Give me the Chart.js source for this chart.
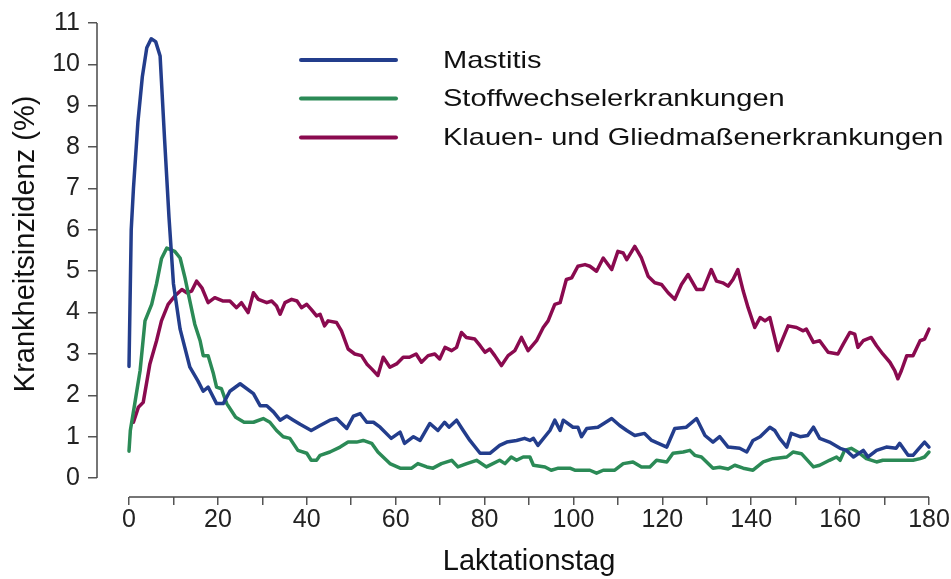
<!DOCTYPE html>
<html>
<head>
<meta charset="utf-8">
<script src="https://cdn.jsdelivr.net/npm/chart.js@4/dist/chart.umd.min.js"></script>
<style>
  html, body { margin: 0; padding: 0; background: #fff; }
  #wrap { width: 951px; height: 579px; position: relative; }
</style>
</head>
<body>
<div id="wrap"><canvas id="lineChart"></canvas></div>
<script>
const seriesNames = ['Mastitis', 'Stoffwechselerkrankungen', 'Klauen- und Gliedmaßenerkrankungen'];
const seriesColors = ['#233d8c', '#2b8a56', '#8a0a4f'];

const mastitisDays = [0, 0.5, 1, 2, 3, 4, 5, 6, 7, 8, 9, 10, 11.5, 13.7, 15.5, 16.7, 17.8,
    19.7, 21.2, 22.7, 25, 28, 29.5, 31, 32.5, 34, 35.5, 37, 38.5, 41, 43, 45.2, 46.7, 49,
    50.5, 52, 53.5, 55, 56.5, 59, 61, 62, 64, 65.5, 67.7, 69.5, 71, 72, 73.7, 75.2, 76.7,
    79, 81.2, 83.4, 85, 87.2, 89, 90.2, 91, 92, 94.7, 95.8, 97, 97.7, 99.9, 101, 101.8, 103,
    105.5, 108.6, 110.4, 112, 113.8, 116, 117.6, 121, 122.8, 125.4, 127.7, 129.6, 131.4,
    132.9, 134.8, 137.4, 139, 140.4, 142, 144.2, 145.3, 146.4, 148, 149, 151, 152.7, 154,
    155.4, 157.6, 160, 161.4, 163, 165.2, 166.3, 168.2, 170.4, 172.6, 173.4, 175.3, 176.4,
    178, 179, 180];
const mastitisValues = [2.7, 6.0, 7.0, 8.6, 9.7, 10.4, 10.62, 10.55, 10.2, 8.2, 6.3, 4.7, 3.6, 2.68, 2.35, 2.1, 2.2,
    1.8, 1.8, 2.1, 2.28, 2.04, 1.75, 1.75, 1.6, 1.4, 1.5, 1.4, 1.3, 1.15, 1.27, 1.4, 1.44, 1.2,
    1.5, 1.56, 1.35, 1.35, 1.23, 0.96, 1.11, 0.84, 1.0, 0.91, 1.32, 1.15, 1.35, 1.23, 1.4, 1.15, 0.91,
    0.6, 0.6, 0.79, 0.87, 0.91, 0.96, 0.91, 0.96, 0.79, 1.15, 1.4, 1.15, 1.4, 1.23, 1.23, 1.0, 1.2,
    1.23, 1.44, 1.27, 1.15, 1.03, 1.08, 0.91, 0.75, 1.2, 1.23, 1.44, 1.03, 0.87,
    1.0, 0.75, 0.72, 0.63, 0.91, 1.0, 1.23, 1.15, 0.96, 0.75, 1.08, 1.0, 1.03, 1.23,
    0.96, 0.87, 0.72, 0.67, 0.51, 0.67, 0.51, 0.67, 0.75, 0.72, 0.84, 0.55, 0.55,
    0.75, 0.87, 0.75];

const stoffDays = [0, 0.3, 1.3, 2.5, 3.6, 5.1, 6.2, 7.3, 8.5, 10.3, 11.5, 12.6, 13.7, 14.8, 16,
    16.7, 17.8, 19, 19.7, 20.8, 22, 24, 25.9, 28, 30.2, 31.7, 33.2, 34.7, 36.2, 38, 40, 41,
    42.2, 43, 45.2, 47.5, 49.3, 51.2, 52.7, 54.6, 56, 58.7, 61, 63.6, 65, 67, 68.4, 70.3,
    72.6, 74, 76, 78.2, 80.4, 83.4, 84.6, 86, 87.2, 88.7, 90.2, 91, 93.6, 95, 96.6, 99.2,
    100.3, 103.7, 105.2, 106.7, 109.3, 111.2, 113.4, 115.3, 117.2, 118.7, 121, 122.4, 124.7,
    126.2, 127.3, 128.8, 131.4, 132.9, 134.8, 136.3, 138.2, 140.4, 142.7, 144.9, 148, 149.4,
    151.3, 154, 155.4, 157.6, 159.2, 160, 161, 162.5, 164.4, 165.9, 168.2, 169.6, 176.4,
    178, 179, 180];
const stoffValues = [0.65, 1.15, 1.8, 2.6, 3.8, 4.2, 4.7, 5.3, 5.56, 5.48, 5.32, 4.84, 4.28, 3.72, 3.32,
    2.96, 2.96, 2.52, 2.2, 2.16, 1.8, 1.47, 1.35, 1.35, 1.44, 1.35, 1.15, 1.0, 0.96, 0.67, 0.6, 0.43,
    0.43, 0.55, 0.63, 0.75, 0.87, 0.87, 0.91, 0.84, 0.63, 0.35, 0.24, 0.24, 0.35, 0.27, 0.24, 0.35,
    0.43, 0.27, 0.35, 0.43, 0.27, 0.43, 0.35, 0.51, 0.43, 0.51, 0.51, 0.31, 0.27, 0.19, 0.24, 0.24,
    0.19, 0.19, 0.12, 0.19, 0.19, 0.35, 0.39, 0.27, 0.27, 0.43, 0.39, 0.6, 0.63,
    0.67, 0.55, 0.51, 0.24, 0.26, 0.22, 0.31, 0.24, 0.19, 0.39, 0.47, 0.51, 0.63,
    0.59, 0.27, 0.31, 0.43, 0.51, 0.43, 0.67, 0.72, 0.6, 0.47, 0.39, 0.43, 0.43,
    0.47, 0.51, 0.63];

const klauenDays = [1, 2.1, 3.2, 4.7, 6.2, 7.3, 8.8, 10.3, 11.9, 13, 14.1, 15.2, 16.4, 17.8, 19.3,
    21.2, 22.7, 24.2, 25.3, 26.8, 28, 29.1, 31, 32.1, 33.2, 34, 35.1, 36.6, 37.8, 38.8, 40,
    41, 42.2, 43, 44, 44.8, 46.7, 47.8, 49.3, 50.8, 52.3, 53.5, 54.6, 56, 57.2, 58.7, 60.2,
    61.7, 63.1, 64.6, 65.8, 67.3, 68.8, 69.9, 71.1, 72.6, 73.7, 74.8, 75.9, 77.8, 79, 80.1,
    81.2, 82.3, 83.8, 85.3, 86.8, 88.3, 89.8, 91.7, 93.2, 94.3, 95.8, 97, 98.4, 99.6, 101,
    102.6, 103.7, 105.2, 106.7, 108.6, 110, 111.2, 112, 113.8, 115.3, 116.8, 118.3, 119.8,
    121.3, 122.8, 124.3, 125.8, 127.7, 129.2, 131, 132.2, 133.6, 134.8, 135.9, 137, 138.2,
    139.3, 140.8, 142, 143.1, 144.2, 146, 148.3, 150.2, 151.7, 152.4, 154, 155.4, 157.3,
    159.5, 160.7, 162.2, 163.3, 164, 165.2, 167, 168.2, 169.6, 171.2, 172.3, 173, 173.8,
    175, 176.4, 178, 179, 180];
const klauenValues = [1.35, 1.71, 1.83, 2.76, 3.32, 3.8, 4.2, 4.4, 4.56, 4.48, 4.52, 4.76, 4.6, 4.24, 4.36,
    4.28, 4.28, 4.12, 4.24, 4.0, 4.48, 4.32, 4.24, 4.28, 4.16, 3.96, 4.24, 4.32, 4.28, 4.12, 4.2,
    4.08, 3.92, 3.96, 3.68, 3.8, 3.76, 3.56, 3.12, 3.0, 2.96, 2.76, 2.64, 2.48, 2.92, 2.68, 2.76,
    2.92, 2.92, 3.0, 2.8, 2.96, 3.0, 2.88, 3.16, 3.08, 3.16, 3.52, 3.4, 3.36, 3.2, 3.04,
    3.12, 2.96, 2.72, 2.96, 3.08, 3.4, 3.08, 3.32, 3.64, 3.8, 4.2, 4.24, 4.8, 4.84, 5.12,
    5.16, 5.12, 5.0, 5.32, 5.04, 5.48, 5.44, 5.28, 5.6, 5.32, 4.88, 4.72, 4.68,
    4.48, 4.32, 4.68, 4.92, 4.56, 4.56, 5.04, 4.76, 4.72, 4.64, 4.8, 5.04, 4.52,
    4.12, 3.64, 3.88, 3.8, 3.88, 3.08, 3.68, 3.64, 3.56, 3.6, 3.28, 3.32, 3.04,
    3.0, 3.24, 3.52, 3.48, 3.16, 3.32, 3.4, 3.2, 3.0, 2.8, 2.6, 2.4, 2.6,
    2.96, 2.96, 3.32, 3.36, 3.6];

const xTicks = [0, 10, 20, 30, 40, 50, 60, 70, 80, 90, 100, 110, 120, 130, 140, 150, 160, 170, 180];
const yTicks = [0, 1, 2, 3, 4, 5, 6, 7, 8, 9, 10, 11];

function toPoints(days, values) {
    return days.map((d, i) => ({ x: d, y: values[i] }));
}

// R-style axes: lines only span the data range, detached from the corner
const rAxes = {
    id: 'rAxes',
    afterDraw(chart) {
        const { ctx, chartArea, scales: { x, y } } = chart;
        ctx.save();
        ctx.strokeStyle = '#4a4a4a';
        ctx.lineWidth = 1.5;
        ctx.beginPath();
        ctx.moveTo(x.getPixelForValue(xTicks[0]), chartArea.bottom);
        ctx.lineTo(x.getPixelForValue(xTicks[xTicks.length - 1]), chartArea.bottom);
        ctx.moveTo(chartArea.left, y.getPixelForValue(yTicks[0]));
        ctx.lineTo(chartArea.left, y.getPixelForValue(yTicks[yTicks.length - 1]));
        ctx.stroke();
        ctx.restore();
    }
};

// legend drawn inside the plot, text a bit wider like the original
const innerLegend = {
    id: 'innerLegend',
    afterDraw(chart) {
        const ctx = chart.ctx;
        const rows = [60, 98.5, 137.5];
        ctx.save();
        chart.data.datasets.forEach((ds, i) => {
            ctx.strokeStyle = ds.borderColor;
            ctx.lineWidth = 4;
            ctx.lineCap = 'round';
            ctx.beginPath();
            ctx.moveTo(301, rows[i]);
            ctx.lineTo(396, rows[i]);
            ctx.stroke();
            ctx.save();
            ctx.translate(443, rows[i]);
            ctx.scale(1.21, 1);
            ctx.fillStyle = '#111';
            ctx.font = '24px "Liberation Sans", Arial, sans-serif';
            ctx.textBaseline = 'middle';
            ctx.fillText(ds.label, 0, 1);
            ctx.restore();
        });
        ctx.restore();
    }
};

document.addEventListener('DOMContentLoaded', function() {
    const datasets = [
        toPoints(mastitisDays, mastitisValues),
        toPoints(stoffDays, stoffValues),
        toPoints(klauenDays, klauenValues)
    ].map((pts, i) => ({
        label: seriesNames[i],
        data: pts,
        borderColor: seriesColors[i],
        backgroundColor: seriesColors[i],
        borderWidth: 3.5,
        pointRadius: 0,
        tension: 0,
        borderJoinStyle: 'round',
        borderCapStyle: 'round',
        clip: false
    }));

    const tickFont = { family: '"Liberation Sans", Arial, sans-serif', size: 25 };
    const titleFont = { family: '"Liberation Sans", Arial, sans-serif', size: 29 };

    new Chart(document.getElementById('lineChart').getContext('2d'), {
        type: 'line',
        data: { datasets },
        options: {
            responsive: true,
            maintainAspectRatio: false,
            animation: false,
            layout: { padding: { top: 20, right: 22, left: 0, bottom: 0 } },
            plugins: { legend: false, tooltip: { enabled: false } },
            scales: {
                x: {
                    type: 'linear',
                    min: -7.2,
                    max: 180,
                    afterBuildTicks(scale) { scale.ticks = xTicks.map(v => ({ value: v })); },
                    afterFit(scale) { scale.height = 82; },
                    grid: { display: true, drawOnChartArea: false, drawTicks: true, tickLength: 8, color: '#555', lineWidth: 1.5 },
                    border: { display: false },
                    ticks: {
                        autoSkip: false, maxRotation: 0, padding: 0, color: '#222', font: tickFont,
                        callback: v => (v % 20 === 0 ? String(v) : '')
                    },
                    title: { display: true, text: '    Laktationstag', color: '#111', font: titleFont, padding: { top: 0, bottom: 0 } }
                },
                y: {
                    type: 'linear',
                    min: -0.457,
                    max: 11,
                    afterBuildTicks(scale) { scale.ticks = yTicks.map(v => ({ value: v })); },
                    afterFit(scale) { scale.width = 97; },
                    grid: { display: true, drawOnChartArea: false, drawTicks: true, tickLength: 9, color: '#555', lineWidth: 1.5 },
                    border: { display: false },
                    ticks: { autoSkip: false, padding: 8, color: '#222', font: tickFont },
                    title: { display: true, text: '    Krankheitsinzidenz (%)', color: '#111', font: titleFont, padding: { top: 9, bottom: 0 } }
                }
            }
        },
        plugins: [rAxes, innerLegend]
    });
});
</script>
</body>
</html>
